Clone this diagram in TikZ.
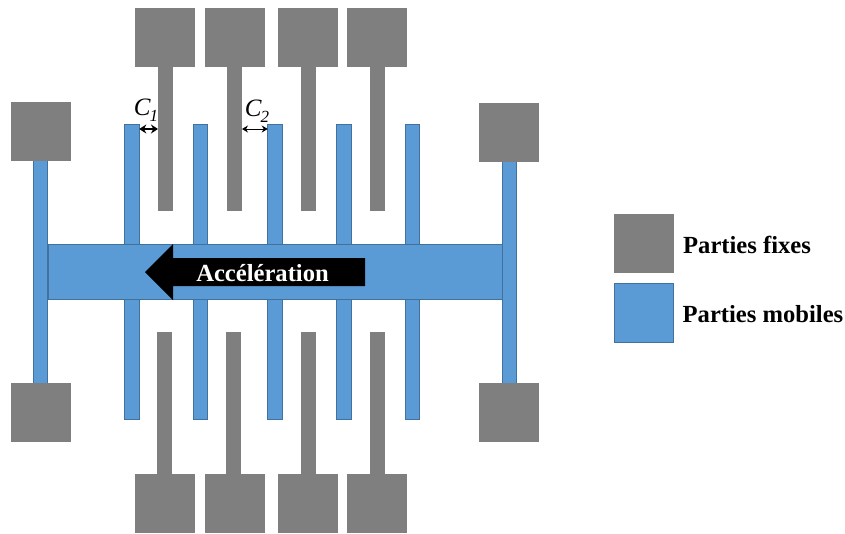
\documentclass[tikz,border=0pt]{standalone}
\usepackage{fontspec}
\setmainfont{Liberation Serif}
\usepackage{tikz}
\usetikzlibrary{arrows.meta,positioning}
\definecolor{fixedgray}{HTML}{7F7F7F}
\definecolor{mobileblue}{HTML}{5B9BD5}
\definecolor{mobileedge}{HTML}{41719C}
\newcommand{\gaplabel}[1]{\fontsize{25}{25}\selectfont\itshape C\kern-1pt\raisebox{-6pt}{\fontsize{17}{17}\selectfont #1}}
\tikzset{
	part/.style = {rectangle, inner sep = 0pt, outer sep = 0pt},
	fixedpad/.style = {part, fill = fixedgray, minimum width = 60pt, minimum height = 59pt},
	fixedstem/.style = {part, fill = fixedgray, minimum width = 15pt, minimum height = 144pt},
	mobilepart/.style = {part, fill = mobileblue, draw = mobileedge, line width = 1pt},
	mobilebar/.style = {mobilepart, minimum width = 14.5pt, minimum height = 120pt},
	mobilerail/.style = {mobilepart, minimum width = 14.5pt, minimum height = 223pt},
	boldtext/.style = {font = \fontsize{24.6}{24.6}\selectfont\bfseries, inner sep = 0pt},
	gaparrow/.style = {{Stealth[length=6pt,width=7pt]}-{Stealth[length=6pt,width=7pt]}, line width = .8pt},
}

\begin{document}
\begin{tikzpicture}[x = 1pt, y = -1pt]
	\useasboundingbox (0,0) rectangle (845,533);
	% fixed combs
	\node (padTopA) at (165,37.5) [fixedpad] {};
	\node (padTopB) at (234.5,37.5) [fixedpad] {};
	\node (padTopC) at (308,37.5) [fixedpad] {};
	\node (padTopD) at (377,37.5) [fixedpad] {};
	\node (stemTopA) [fixedstem, below=0pt of padTopA, xshift=.5pt] {};
	\node (stemTopB) [fixedstem, below=0pt of padTopB] {};
	\node (stemTopC) [fixedstem, below=0pt of padTopC] {};
	\node (stemTopD) [fixedstem, below=0pt of padTopD, xshift=.5pt] {};
	\node (padBotA) at (165,503.5) [fixedpad] {};
	\node (padBotB) at (234.5,503.5) [fixedpad] {};
	\node (padBotC) at (308,503.5) [fixedpad] {};
	\node (padBotD) at (377,503.5) [fixedpad] {};
	\node (stemBotA) [fixedstem, minimum height = 142pt, above=0pt of padBotA, xshift=-.5pt] {};
	\node (stemBotB) [fixedstem, minimum height = 142pt, above=0pt of padBotB, xshift=-1pt] {};
	\node (stemBotC) [fixedstem, minimum height = 142pt, above=0pt of padBotC] {};
	\node (stemBotD) [fixedstem, minimum height = 142pt, above=0pt of padBotD, xshift=.5pt] {};
	% moving mass
	\node (barTopA) at (132,184) [mobilebar] {};
	\node (barTopB) at (200.5,184) [mobilebar] {};
	\node (barTopC) at (275,184) [mobilebar] {};
	\node (barTopD) at (344,184) [mobilebar] {};
	\node (barTopE) at (412.5,184) [mobilebar] {};
	\node (barBotA) at (132,359) [mobilebar] {};
	\node (barBotB) at (200.5,359) [mobilebar] {};
	\node (barBotC) at (275,359) [mobilebar] {};
	\node (barBotD) at (344,359) [mobilebar] {};
	\node (barBotE) at (412.5,359) [mobilebar] {};
	\node (railLeft) at (40.5,271.5) [mobilerail] {};
	\node (railRight) at (509.5,271.5) [mobilerail] {};
	\node (body) at (275,271.5) [mobilepart, minimum width = 454pt, minimum height = 55pt] {};
	% anchors
	\node (padLeftTop) at (41,131.5) [fixedpad] {};
	\node (padLeftBot) at (41,412) [fixedpad] {};
	\node (padRightTop) at (509,132) [fixedpad] {};
	\node (padRightBot) at (509,412) [fixedpad] {};
	% acceleration arrow
	\fill [black] (145,272) -- (173,244) -- (173,258) -- (365,258) -- (365,286) -- (173,286) -- (173,300) -- cycle;
	\node (accel) at (262.5,273.5) [boldtext, text = white] {Accélération};
	% gaps
	\coordinate (gaplevel) at (0,129);
	\draw [gaparrow, {Stealth[length=7pt,width=9pt]}-{Stealth[length=7pt,width=9pt]}, line width = 1.2pt] (barTopA.east |- gaplevel) -- (stemTopA.west |- gaplevel);
	\draw [gaparrow] (stemTopB.east |- gaplevel) -- (barTopC.west |- gaplevel);
	\node (labelOne) at (146,110) [inner sep = 0pt] {\gaplabel{1}};
	\node (labelTwo) at (257,111) [inner sep = 0pt] {\gaplabel{2}};
	% legend
	\node (legendFixed) at (643.5,243.5) [fixedpad] {};
	\node (legendMobile) at (643.5,312.5) [mobilepart, minimum width = 59pt, minimum height = 59pt] {};
	\node (textFixed) [boldtext, right=9.5pt of legendFixed, yshift=-1pt] {Parties fixes};
	\node (textMobile) [boldtext, right=9.5pt of legendMobile, yshift=-1.5pt] {Parties mobiles};
\end{tikzpicture}
\end{document}
